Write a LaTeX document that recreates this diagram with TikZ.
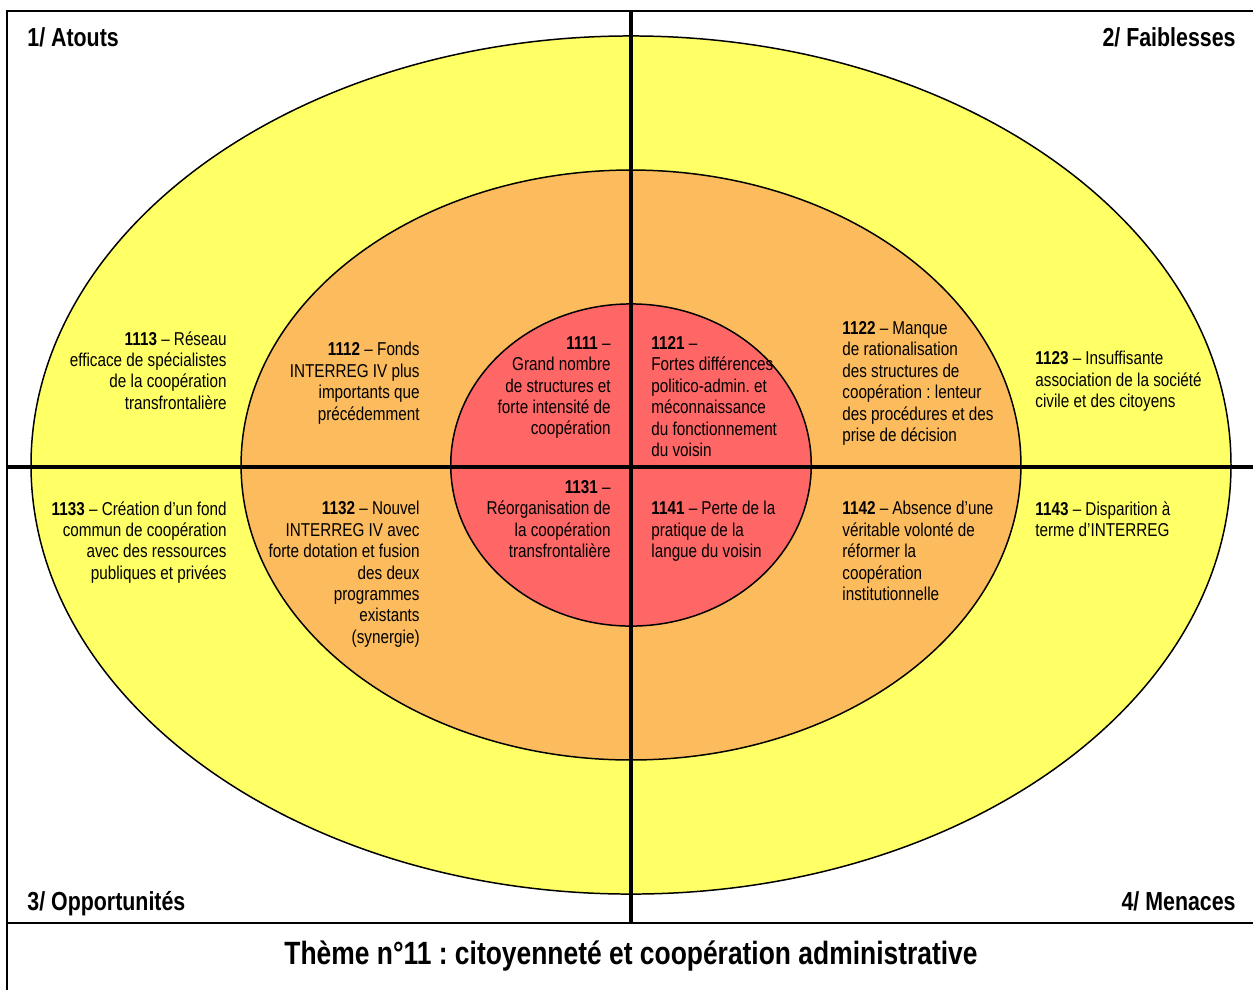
\documentclass[tikz,border=0pt]{standalone}
\usepackage{fontspec}
\setmainfont{Liberation Sans}[FakeStretch=0.82]
\definecolor{ringyellow}{HTML}{FFFF66}
\definecolor{ringorange}{HTML}{FCBB5C}
\definecolor{ringred}{HTML}{FF6666}
\frenchspacing

\begin{document}
\begin{tikzpicture}[x=0.537pt,y=-0.537pt,
    ring/.style={draw,line width=0.8pt},
    axis/.style={line width=2pt},
    frame/.style={line width=1.3pt},
    quadrant/.style={font={\fontsize{14}{16}\selectfont\bfseries},inner sep=0},
    lefttext/.style={font={\fontsize{10}{11.5}\selectfont},align=right,
        anchor=north east,inner sep=0},
    righttext/.style={font={\fontsize{10}{11.5}\selectfont},align=left,
        anchor=north west,inner sep=0}]
\useasboundingbox (0,0) rectangle (1253,990);
\coordinate (c) at (631,465);
% rings
\draw[ring,fill=ringyellow] (c) ellipse [x radius=322.2pt,y radius=230.4pt];
\draw[ring,fill=ringorange] (c) ellipse [x radius=209.4pt,y radius=158.4pt];
\draw[ring,fill=ringred] (c) ellipse [x radius=96.8pt,y radius=86.5pt];
% cross and frame
\draw[axis] (631,11) -- (631,923);
\draw[axis] (7,467) -- (1253,467);
\draw[frame] (1253,11) -- (7,11) -- (7,990);
\draw[frame] (7,923) -- (1253,923);

\node[quadrant,anchor=base west] (atouts) at (27,46) {1/ Atouts};
\node[quadrant,anchor=base east] (faiblesses) at (1236,46) {2/ Faiblesses};
\node[quadrant,anchor=base west] (opportunites) at (27,910) {3/ Opportunités};
\node[quadrant,anchor=base east] (menaces) at (1236,910) {4/ Menaces};
\node[font={\fontsize{17.3}{20}\selectfont\bfseries},anchor=base] (theme) at (631,964)
    {Thème n°11 : citoyenneté et coopération administrative};

\node[lefttext] (e1113) at (227,331) {\textbf{1113} – Réseau\\efficace de spécialistes\\de la coopération\\transfrontalière};
\node[lefttext] (e1112) at (420,342) {\textbf{1112} – Fonds\\INTERREG IV plus\\importants que\\précédemment};
\node[lefttext] (e1111) at (611,336) {\textbf{1111} –\\Grand nombre\\de structures et\\forte intensité de\\coopération};
\node[righttext] (e1121) at (651,336) {\textbf{1121} –\\Fortes différences\\politico-admin. et\\méconnaissance\\du fonctionnement\\du voisin};
\node[righttext] (e1122) at (842,321) {\textbf{1122} – Manque\\de rationalisation\\des structures de\\coopération : lenteur\\des procédures et des\\prise de décision};
\node[righttext] (e1123) at (1035,351) {\textbf{1123} – Insuffisante\\association de la société\\civile et des citoyens};

\node[lefttext] (e1133) at (227,501) {\textbf{1133} – Création d’un fond\\commun de coopération\\avec des ressources\\publiques et privées};
\node[lefttext] (e1132) at (420,501) {\textbf{1132} – Nouvel\\INTERREG IV avec\\forte dotation et fusion\\des deux\\programmes\\existants\\(synergie)};
\node[lefttext] (e1131) at (611,480) {\textbf{1131} –\\Réorganisation de\\la coopération\\transfrontalière};
\node[righttext] (e1141) at (651,501) {\textbf{1141} – Perte de la\\pratique de la\\langue du voisin};
\node[righttext] (e1142) at (842,501) {\textbf{1142} – Absence d’une\\véritable volonté de\\réformer la\\coopération\\institutionnelle};
\node[righttext] (e1143) at (1035,501) {\textbf{1143} – Disparition à\\terme d’INTERREG};
\end{tikzpicture}
\end{document}
